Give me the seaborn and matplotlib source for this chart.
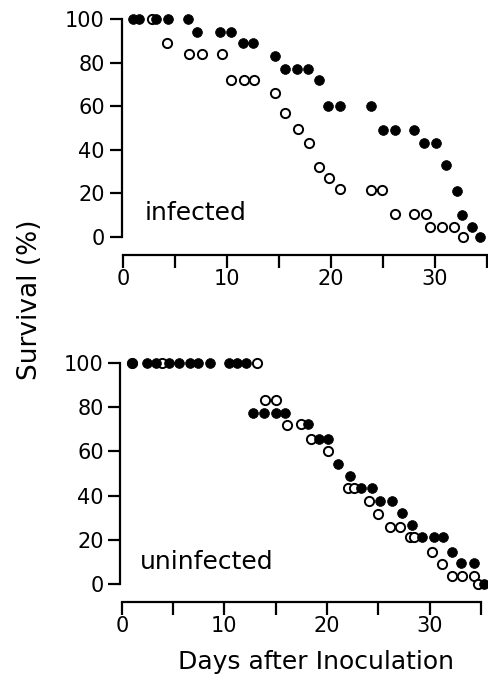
import matplotlib
matplotlib.use("Agg")
import matplotlib.pyplot as plt
import seaborn as sns
import pandas as pd

# ---------------- data ----------------
# infected panel, filled circles
inf_filled_days = [1.0, 1.5, 3.2, 4.3, 6.2, 7.1, 9.3, 10.4, 11.5, 12.5, 14.6, 15.6, 16.7,
                   17.8, 18.8, 19.7, 20.9, 23.8, 25.0, 26.2, 28.0, 28.9, 30.1, 31.1, 32.1,
                   32.6, 33.6, 34.3]
inf_filled_surv = [100, 100, 100, 100, 100, 94, 94, 94, 89, 89, 83, 77, 77,
                   77, 72, 60, 60, 60, 49, 49, 49, 43, 43, 33, 21,
                   10, 4.4, 0]
# infected panel, open circles
inf_open_days = [2.8, 4.2, 6.35, 7.6, 9.5, 10.4, 11.6, 12.6, 14.6, 15.6, 16.8, 17.9,
                 18.8, 19.8, 20.9, 23.8, 24.9, 26.2, 28.0, 29.1, 29.5, 30.7, 31.8, 32.7]
inf_open_surv = [100, 89, 84, 84, 84, 72, 72, 72, 66, 57, 49.5, 43,
                 32, 27, 22, 21.5, 21.5, 10.4, 10.4, 10.4, 4.4, 4.4, 4.4, 0]

# uninfected panel, filled circles
uninf_filled_days = [1.0, 2.5, 3.3, 4.6, 5.6, 6.6, 7.4, 8.6, 10.4, 11.2, 12.1,
                     12.8, 13.9, 15.0, 15.9, 18.1, 19.2, 20.1, 21.1, 22.2, 23.3, 24.4,
                     25.2, 26.3, 27.3, 28.3, 29.3, 30.4, 31.3, 32.2, 33.1, 34.3, 35.3]
uninf_filled_surv = [100, 100, 100, 100, 100, 100, 100, 100, 100, 100, 100,
                     77.5, 77.5, 77.5, 77.5, 72.6, 65.6, 65.6, 54.3, 49, 43.6, 43.6,
                     37.7, 37.7, 32, 26.7, 21.1, 21.1, 21.1, 14.6, 9.4, 9.4, 0]
# uninfected panel, open circles
uninf_open_days = [1.0, 3.9, 13.2, 14.0, 15.0, 16.1, 17.5, 18.4, 20.1, 22.0, 22.6, 24.1,
                   25.0, 26.1, 27.1, 28.1, 28.5, 30.2, 31.2, 32.2, 33.2, 34.3, 34.7]
uninf_open_surv = [100, 100, 100, 83.3, 83.3, 72, 72.6, 65.6, 60, 43.6, 43.6, 37.7,
                   31.7, 26, 26, 21.1, 21.1, 14.6, 8.9, 3.6, 3.6, 3.6, 0]

panel_labels = ["infected", "uninfected"]
y_ticks = [0, 20, 40, 60, 80, 100]
x_major = [0, 10, 20, 30]
x_minor = [5, 15, 25, 35]
x_label = "Days after Inoculation"
y_label = "Survival (%)"

# ---------------- figure ----------------
sns.set_style("ticks")
plt.rcParams["font.family"] = ["DejaVu Sans"]
plt.rcParams["text.color"] = "black"
plt.rcParams["xtick.color"] = "black"
plt.rcParams["ytick.color"] = "black"

fig = plt.figure(figsize=(4.88, 6.85), dpi=100)
ax_top = fig.add_axes([0.249, 0.6277, 0.750, 0.3572])
ax_bot = fig.add_axes([0.2465, 0.1212, 0.741, 0.3618])

panels = [
    (ax_top, inf_filled_days, inf_filled_surv, inf_open_days, inf_open_surv,
     (-0.15, 35.05), (-8.3, 104), (2.1, 11)),
    (ax_bot, uninf_filled_days, uninf_filled_surv, uninf_open_days, uninf_open_surv,
     (-0.15, 35.1), (-8.1, 104), (1.8, 10)),
]

for i, (ax, fd, fs, od, os_, xl, yl, lblpos) in enumerate(panels):
    df_open = pd.DataFrame({"day": od, "surv": os_})
    df_fill = pd.DataFrame({"day": fd, "surv": fs})
    sns.scatterplot(data=df_open, x="day", y="surv", ax=ax, marker="o", s=44,
                    facecolor="white", edgecolor="black", linewidth=1.4,
                    clip_on=False, zorder=3)
    sns.scatterplot(data=df_fill, x="day", y="surv", ax=ax, marker="o", s=50,
                    color="black", edgecolor="black", linewidth=0.5,
                    clip_on=False, zorder=4)
    ax.set_xlim(*xl)
    ax.set_ylim(*yl)
    ax.set_xlabel("")
    ax.set_ylabel("")
    for side in ["top", "right"]:
        ax.spines[side].set_visible(False)
    ax.spines["left"].set_bounds(0, 100)
    ax.spines["bottom"].set_bounds(0, 35)
    for side in ["left", "bottom"]:
        ax.spines[side].set_linewidth(1.6)
        ax.spines[side].set_color("black")
    ax.set_yticks(y_ticks)
    ax.set_yticklabels([str(v) for v in y_ticks], fontsize=15)
    ax.set_xticks(x_major)
    ax.set_xticklabels([str(v) for v in x_major], fontsize=15)
    ax.set_xticks(x_minor, minor=True)
    ax.tick_params(axis="y", which="both", left=True, direction="out", length=9,
                   width=1.6, pad=3, colors="black")
    ax.tick_params(axis="x", which="both", bottom=True, direction="out", length=9,
                   width=1.6, pad=1, colors="black")
    ax.text(lblpos[0], lblpos[1], panel_labels[i], fontsize=18, ha="left",
            va="center", color="black")

fig.text(0.062, 1 - 300 / 685, y_label, rotation=90, fontsize=19,
         ha="center", va="center", color="black")
fig.text(0.648, 1 - 662 / 685, x_label, fontsize=18, ha="center", va="center",
         color="black")

fig.savefig("out.png", dpi=100, facecolor="white")
